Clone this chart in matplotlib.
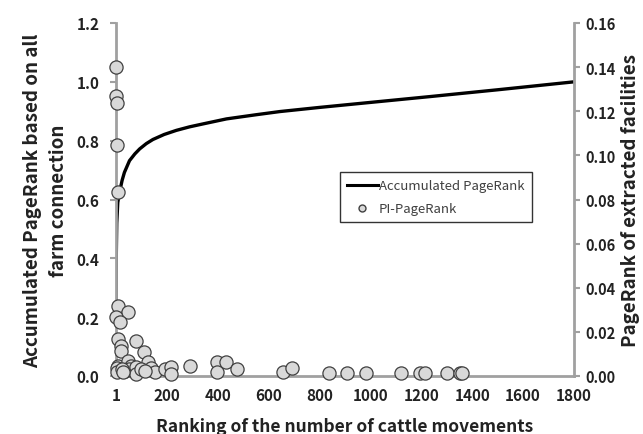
import matplotlib
matplotlib.use("Agg")
import matplotlib.pyplot as plt
from matplotlib.lines import Line2D

plt.rcParams['font.family'] = ['Noto Sans CJK JP', 'DejaVu Sans']

# accumulated PageRank curve (left axis)
acc_rank = [1, 2, 4, 8, 15, 25, 34, 54, 75, 94, 120, 146, 190, 238, 290, 343, 435, 550,
            645, 800, 1000, 1236, 1500, 1800]
acc_value = [0.25, 0.40, 0.52, 0.59, 0.625, 0.665, 0.692, 0.732, 0.755, 0.772, 0.790,
             0.804, 0.821, 0.835, 0.847, 0.857, 0.874, 0.888, 0.899, 0.913, 0.930, 0.950,
             0.973, 1.0]

# PageRank of extracted facilities (right axis)
pi_rank = [2, 1, 3, 4, 10, 8, 47, 2, 15, 8, 81, 21, 21, 111, 126, 8, 47, 61, 15, 35,
           54, 81, 81, 140, 153, 192, 218, 218, 290, 100, 113, 4, 6, 25, 30,
           396, 396, 435, 478, 658, 691, 837, 908, 983, 1122, 1194, 1214, 1302, 1352, 1361]
pi_value = [0.140, 0.127, 0.1237, 0.1047, 0.0835, 0.0319, 0.0291, 0.0266, 0.0243, 0.0168,
            0.0160, 0.0137, 0.0115, 0.0107, 0.0062, 0.0047, 0.0069, 0.0047, 0.0024, 0.0024,
            0.0032, 0.0039, 0.0009, 0.0034, 0.0017, 0.0032, 0.0039, 0.0009, 0.0044, 0.0032,
            0.0024, 0.0035, 0.0020, 0.0030, 0.0018,
            0.0065, 0.0020, 0.0062, 0.0032, 0.0020, 0.0035, 0.0012, 0.0012, 0.0012, 0.0012,
            0.0012, 0.0012, 0.0012, 0.0012, 0.0012]

x_ticks = [1, 200, 400, 600, 800, 1000, 1200, 1400, 1600, 1800]
left_ticks = [0.0, 0.2, 0.4, 0.6, 0.8, 1.0, 1.2]
right_ticks = [0.00, 0.02, 0.04, 0.06, 0.08, 0.10, 0.12, 0.14, 0.16]

axis_gray = '#a0a0a0'
text_col = '#222222'

fig = plt.figure(figsize=(6.43, 4.35), dpi=100)
ax = fig.add_axes([116 / 643, 58 / 435, (574 - 116) / 643, (377 - 24) / 435])
ax2 = ax.twinx()

ax.plot(acc_rank, acc_value, color='black', lw=2.4, zorder=2, solid_capstyle='butt',
        solid_joinstyle='round')
ax2.scatter(pi_rank, pi_value, s=90, facecolor='#d9d9d9', edgecolor='#404040',
            linewidth=0.9, zorder=3, clip_on=False)

ax.set_xlim(1, 1800)
ax.set_ylim(0, 1.2)
ax2.set_ylim(0, 0.16)
ax.set_xticks(x_ticks)
ax.set_yticks(left_ticks)
ax.set_yticklabels([f'{v:.1f}' for v in left_ticks])
ax2.set_yticks(right_ticks)
ax2.set_yticklabels([f'{v:.2f}' for v in right_ticks])

for a in (ax, ax2):
    a.spines['top'].set_visible(False)
    for side in ('left', 'right', 'bottom'):
        a.spines[side].set_color(axis_gray)
        a.spines[side].set_linewidth(2)
ax.spines['right'].set_visible(False)
ax2.spines['left'].set_visible(False)
ax2.spines['bottom'].set_visible(False)

ax.tick_params(axis='y', direction='out', length=4, width=1.5, color=axis_gray,
               labelsize=11, labelcolor=text_col, pad=8)
ax.tick_params(axis='x', length=0, labelsize=11, labelcolor=text_col, pad=8)
ax2.tick_params(axis='y', direction='out', length=4, width=1.5, color=axis_gray,
                labelsize=10.5, labelcolor=text_col, pad=4)
for lab in ax.get_xticklabels() + ax.get_yticklabels() + ax2.get_yticklabels():
    lab.set_fontweight('bold')

ax.set_xlabel('Ranking of the number of cattle movements', fontsize=12.5,
              fontweight='bold', color=text_col, labelpad=10)
ax.set_ylabel('Accumulated PageRank based on all\nfarm connection', fontsize=13.5,
              fontweight='bold', color=text_col, labelpad=6, linespacing=1.45)
ax2.set_ylabel('PageRank of extracted facilities', fontsize=13.5,
               fontweight='bold', color=text_col, labelpad=4)

handles = [Line2D([], [], color='black', lw=2.2),
           Line2D([], [], marker='o', ls='none', markersize=5, markerfacecolor='#d9d9d9',
                  markeredgecolor='#404040')]
leg = ax2.legend(handles, ['Accumulated PageRank', 'PI-PageRank'], loc='upper left',
                 bbox_to_anchor=(340 / 643, 1 - 173 / 435), bbox_transform=fig.transFigure,
                 frameon=True, fancybox=False, edgecolor='black', fontsize=9.5,
                 handlelength=2.3, handletextpad=0.1, borderpad=0.55, labelspacing=0.75,
                 borderaxespad=0)
leg.get_frame().set_linewidth(1.0)
for t in leg.get_texts():
    t.set_color('#404040')

fig.savefig('out.png', dpi=100)
